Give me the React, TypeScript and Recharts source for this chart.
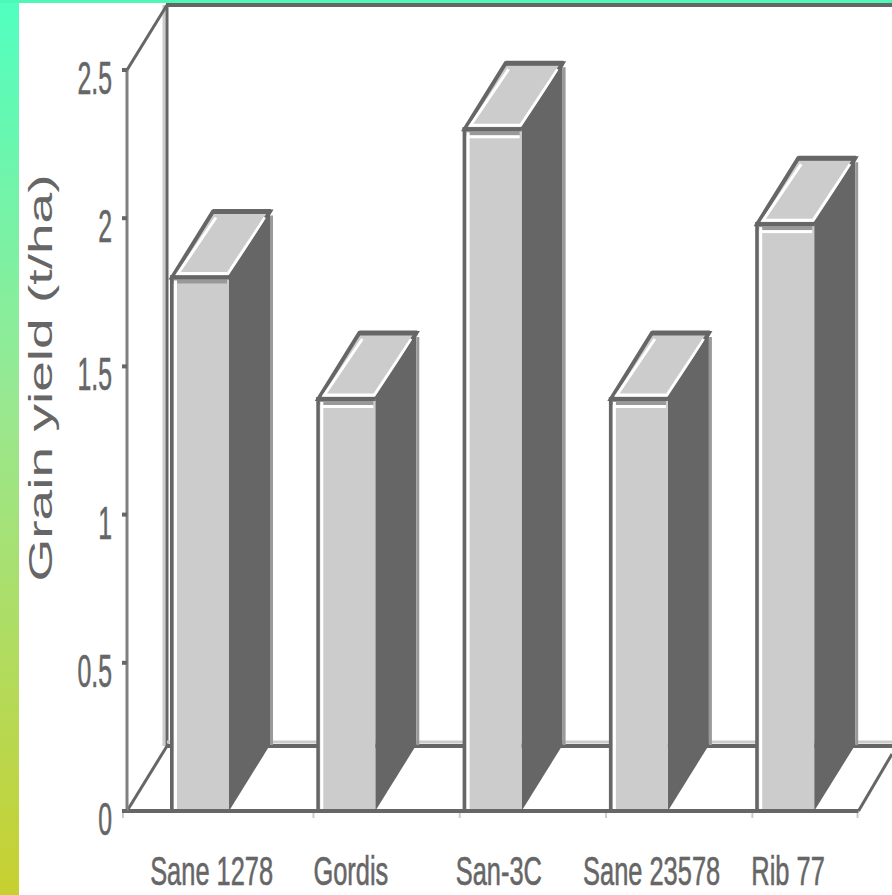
import { BarChart, Bar, XAxis, YAxis, usePlotArea } from 'recharts'

const varieties = ['Sane 1278', 'Gordis', 'San-3C', 'Sane 23578', 'Rib 77']
const grainYield = [1.8, 1.39, 2.3, 1.39, 1.98]
const yTicks = [0, 0.5, 1, 1.5, 2, 2.5]

const chartData = varieties.map((name, i) => ({ name, grainYield: grainYield[i] }))

const WIDTH = 892
const HEIGHT = 895

const DARK = '#666666'
const MID = '#999999'
const FACE = '#cccccc'

// extrusion of the bars
const DEPTH_X = 41
const DEPTH_Y = -66

// category labels sit off-centre, so each one gets its own start offset from the tick
const xLabelOffset: Record<string, number> = {
  'Sane 1278': -50,
  Gordis: -33,
  'San-3C': -37,
  'Sane 23578': -56,
  'Rib 77': -34,
}

function Box3D(props: any) {
  const { x, y, width: w, height: h, index } = props
  const dx = DEPTH_X
  const dy = DEPTH_Y
  return (
    <g>
      {/* top face */}
      <polygon
        points={`${x},${y} ${x + dx},${y + dy} ${x + w + dx},${y + dy} ${x + w},${y}`}
        fill={FACE}
        stroke={DARK}
        strokeWidth={4}
      />
      <line x1={x + dx} y1={y + dy} x2={x + w + dx + 1} y2={y + dy} stroke={DARK} strokeWidth={5} />
      <polyline
        points={`${x + dx + 3},${y + dy + 6} ${x + 6},${y - 4} ${x + w - 1},${y - 4} ${x + w + dx - 5},${y + dy + 6}`}
        fill="none"
        stroke="#ffffff"
        strokeWidth={3}
      />
      {/* side face */}
      <polygon
        points={`${x + w},${y} ${x + w + dx},${y + dy} ${x + w + dx},${y + h + dy} ${x + w},${y + h}`}
        fill={DARK}
      />
      <line
        x1={x + w + dx + 1.5}
        y1={y + dy + 4}
        x2={x + w + dx + 1.5}
        y2={y + h + dy}
        stroke={MID}
        strokeWidth={3}
      />
      {/* front face */}
      <rect x={x} y={y} width={w} height={h} fill={FACE} />
      <rect x={x} y={y + 2} width={w - 2} height={4} fill={MID} />
      {index !== 0 && <rect x={x + 3} y={y + 6} width={w - 5} height={3} fill="#ffffff" />}
      <rect x={x + 2} y={y + 3} width={3} height={h - 3} fill="#ffffff" />
      <rect x={x - 2} y={y - 2} width={3.5} height={h + 2} fill={DARK} />
      <rect x={x - 2} y={y - 2} width={w + 2} height={4} fill={DARK} />
    </g>
  )
}

// back wall and floor of the box behind the bars
function BackWall() {
  const area = usePlotArea()
  if (!area) return null
  const left = area.x
  const right = area.x + area.width
  const top = area.y
  const bottom = area.y + area.height
  const backX = left + 40
  const backFloor = bottom - 65
  const backTop = top - 65
  return (
    <g>
      <line x1={backX - 3} y1={backTop} x2={backX - 3} y2={backFloor} stroke={FACE} strokeWidth={3} />
      <line x1={backX} y1={backTop} x2={backX} y2={backFloor} stroke={DARK} strokeWidth={3} />
      <line x1={backX - 1} y1={backTop} x2={WIDTH} y2={backTop} stroke={DARK} strokeWidth={4} />
      <line x1={backX} y1={backFloor - 4} x2={WIDTH} y2={backFloor - 4} stroke={FACE} strokeWidth={3} />
      <line x1={backX} y1={backFloor} x2={WIDTH} y2={backFloor} stroke={DARK} strokeWidth={4} />
      <line x1={left} y1={top} x2={backX} y2={backTop} stroke={DARK} strokeWidth={3} />
      <line x1={left} y1={bottom} x2={backX} y2={backFloor} stroke={DARK} strokeWidth={3} />
      <line x1={right} y1={bottom} x2={WIDTH} y2={bottom - 57} stroke={DARK} strokeWidth={3} />
      <line x1={left - 4} y1={bottom} x2={left - 4} y2={bottom + 7} stroke={FACE} strokeWidth={2} />
      <line x1={right - 1} y1={bottom} x2={right - 1} y2={bottom + 7} stroke={FACE} strokeWidth={2} />
    </g>
  )
}

function YTick({ x, y, payload }: any) {
  return (
    <text
      transform={`translate(${x},${y + 24}) scale(0.54,1)`}
      textAnchor="end"
      fontFamily="Liberation Sans"
      fontSize={46}
      fill={DARK}
      stroke={DARK}
      strokeWidth={0.6}
    >
      {payload.value}
    </text>
  )
}

function XTick({ x, y, payload, index }: any) {
  return (
    <g>
      {index > 0 && <line x1={x - 33} y1={813} x2={x - 33} y2={818} stroke={FACE} strokeWidth={2} />}
      <text
        transform={`translate(${x + xLabelOffset[payload.value]},885) scale(0.62,1)`}
        fontFamily="Liberation Sans"
        fontSize={41}
        fill={DARK}
        stroke={DARK}
        strokeWidth={0.6}
      >
        {payload.value}
      </text>
    </g>
  )
}

function YTitle() {
  return (
    <text
      transform="translate(52,378) rotate(-90) scale(1.67,1)"
      textAnchor="middle"
      fontFamily="Liberation Sans"
      fontSize={33}
      fill={DARK}
    >
      Grain yield (t/ha)
    </text>
  )
}

export default function App() {
  return (
    <div
      style={{
        position: 'absolute',
        left: 0,
        top: 0,
        width: WIDTH,
        height: HEIGHT,
        overflow: 'hidden',
        background: '#ffffff',
      }}
    >
      {/* coloured slide edge */}
      <div
        style={{
          position: 'absolute',
          left: 0,
          top: 0,
          width: 19,
          height: HEIGHT,
          background: 'linear-gradient(180deg, #50ffc0 0%, #98e890 45%, #c8d030 100%)',
        }}
      />
      <div style={{ position: 'absolute', left: 0, top: 0, width: WIDTH, height: 3, background: '#50f8b8' }} />
      <div style={{ position: 'absolute', left: 0, top: 0 }}>
        <BarChart
          width={WIDTH}
          height={HEIGHT}
          data={chartData}
          barSize={57}
          margin={{ top: 70, right: 33.5, bottom: 0, left: 0 }}
        >
          <BackWall />
          <XAxis
            dataKey="name"
            height={84}
            interval={0}
            axisLine={{ stroke: DARK, strokeWidth: 4 }}
            tickLine={false}
            tick={XTick}
          />
          <YAxis
            width={127}
            domain={[0, 2.5]}
            ticks={yTicks}
            interval={0}
            tickSize={5}
            tickMargin={10}
            axisLine={{ stroke: '#808080', strokeWidth: 3 }}
            tickLine={{ stroke: DARK, strokeWidth: 4 }}
            tick={YTick}
            label={{ content: YTitle }}
          />
          <Bar dataKey="grainYield" shape={Box3D} isAnimationActive={false} />
        </BarChart>
      </div>
    </div>
  )
}
